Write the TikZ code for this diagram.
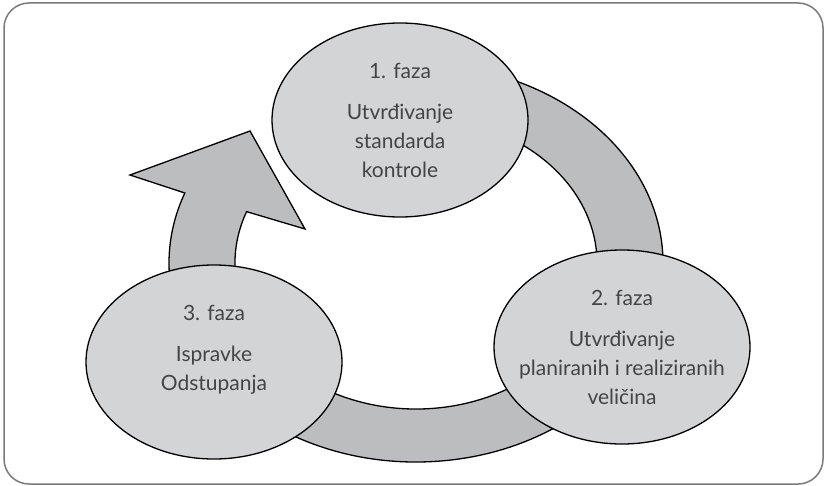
\documentclass[tikz,border=0pt]{standalone}
\usepackage{fontspec}
\setmainfont{Lato}
\usetikzlibrary{shapes.geometric}
\definecolor{ringgray}{HTML}{BBBDBF}
\definecolor{phasegray}{HTML}{D3D4D6}
\definecolor{txtgray}{HTML}{444444}
\definecolor{framegray}{HTML}{7A7A7A}
\begin{document}
\begin{tikzpicture}[x=1pt,y=-1pt,
  phase/.style={ellipse, draw=black, line width=1.3pt, fill=phasegray,
    minimum width=256pt, minimum height=194pt, inner sep=0pt},
  phasetext/.style={align=center, text=txtgray, font=\fontsize{21}{29}\selectfont},
  ringstyle/.style={draw=black, line width=1.3pt, fill=ringgray, line join=miter},
  framestyle/.style={draw=framegray, line width=1.5pt, rounded corners=25pt}]
\useasboundingbox (0,0) rectangle (826,486);
\draw[framestyle] (4,3) rectangle (823,484);
% ring with arrowhead
\coordinate (rc) at (416,263);
\coordinate (barbL) at (130,175);
\coordinate (apex) at (250,131);
\coordinate (barbR) at (305,229);
\draw[ringstyle] ([shift={(265:247 and 199)}]rc)
  arc[start angle=265, end angle=560.6, x radius=247, y radius=199]
  -- (barbL) -- (apex) -- (barbR)
  -- ([shift={(200.6:181 and 146)}]rc)
  arc[start angle=560.6, end angle=265, x radius=181, y radius=146]
  -- cycle;
% phases
\node[phase] (c1) at (400,120) {};
\node[phase] (c2) at (622,347) {};
\node[phase] (c3) at (214,362) {};
\node[phasetext] (t1) at (c1) {1. faza\\[12pt]Utvrđivanje\\standarda\\kontrole};
\node[phasetext] (t2) at (c2) {2. faza\\[12pt]Utvrđivanje\\planiranih i realiziranih\\veličina};
\node[phasetext] (t3) at ([yshift=12pt]c3) {3. faza\\[12pt]Ispravke\\Odstupanja};
\end{tikzpicture}
\end{document}
